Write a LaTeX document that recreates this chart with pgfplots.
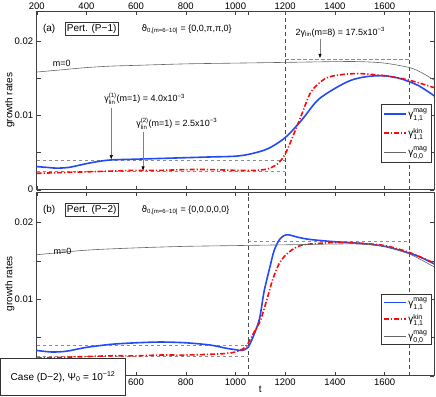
\documentclass[border=0pt]{standalone}
\usepackage{amsmath}
\usepackage{fontspec}
\setmainfont{Liberation Sans}
\newfontfamily\dejavu{DejaVu Sans}
\usepackage{pgfplots}
\pgfplotsset{compat=1.18}
\usetikzlibrary{arrows.meta}

\definecolor{mblue}{RGB}{35,75,245}
\definecolor{mred}{RGB}{250,10,10}

\tikzset{ann/.style={font=\fontsize{9}{10}\selectfont}}
\pgfplotsset{
  panel/.style={
    scale only axis, width=397.6pt,
    xmin=200, xmax=1800, ymin=0, ymax=0.024,
    xtick={200,400,...,1600},
    extra x ticks={1050,1700}, extra x tick labels={},
    ytick={0,0.01,0.02}, yticklabels={0,0.01,0.02},
    minor ytick={0.005,0.015},
    scaled ticks=false,
    tick align=inside, major tick length=4pt, minor tick length=4pt,
    xtick pos=both, ytick pos=both,
    axis line style={black!75, line width=0.5pt},
    every tick/.style={black!75, line width=0.4pt},
    tick label style={font=\fontsize{9.5}{11}\selectfont},
    /pgf/number format/assume math mode=true,
    /pgf/number format/1000 sep={},
    ylabel={growth rates},
    ylabel style={at={(rel axis cs:-0.068,0.5)}, anchor=center, font=\fontsize{10}{12}\selectfont},
    legend cell align=left,
    legend image code/.code={\draw[##1] (0pt,0pt) -- (22pt,0pt);},
  },
  mag/.style={color=mblue, line width=1.6pt, smooth},
  kin/.style={color=mred, line width=1.6pt, smooth, dash pattern=on 5pt off 2pt on 1.2pt off 2pt},
  zz/.style={color=black!60, line width=0.6pt, smooth},
  ref/.style={color=black!45, line width=0.6pt, dash pattern=on 3.5pt off 2.5pt, forget plot},
  vref/.style={color=black!70, line width=0.5pt, dash pattern=on 4pt off 3pt, forget plot},
}
\newcommand{\gsym}[2]{γ$^{\text{#1}}_{\text{#2}}$}

\begin{document}
\begin{tikzpicture}
\path[use as bounding box] (0pt,0pt) rectangle (436pt,-396pt);

% panel (a)
\begin{axis}[panel, at={(36.7pt,-11pt)}, anchor=north west, height=178.7pt,
  xticklabel pos=upper,
  xticklabel style={yshift=-2.5pt},
  legend style={at={(rel axis cs:0.9935,0.482)}, anchor=north east, draw=black!80,
    font=\fontsize{10}{12}\selectfont, row sep=5pt, inner xsep=2pt, inner ysep=3pt},
]
\addplot[vref] coordinates {(1200,0) (1200,0.024)};
\addplot[vref] coordinates {(1700,0) (1700,0.024)};
\addplot[ref] coordinates {(200,0.0040) (1200,0.0040)};
\addplot[ref] coordinates {(200,0.0025) (1200,0.0025)};
\addplot[ref] coordinates {(1200,0.0175) (1700,0.0175)};

\addplot[mag] coordinates {
 (200,0.0031) (240,0.0030) (280,0.0029) (330,0.0030) (400,0.0035) (450,0.0038)
 (500,0.0040) (600,0.0041) (700,0.0042) (800,0.0043) (900,0.0044) (1000,0.0045)
 (1060,0.0048) (1130,0.0055) (1200,0.0070) (1265,0.0093) (1330,0.0120) (1400,0.0136)
 (1465,0.0147) (1530,0.0152) (1600,0.0153) (1665,0.0149) (1735,0.0140) (1800,0.0126)
};
\addlegendentry{\gsym{mag}{1,1}}
\addplot[kin] coordinates {
 (200,0.0022) (300,0.0023) (400,0.0024) (500,0.0025) (600,0.0026) (700,0.0026)
 (800,0.0027) (900,0.0027) (1000,0.0026) (1080,0.0026) (1130,0.0028) (1170,0.0035)
 (1200,0.0048) (1235,0.0075) (1265,0.0100) (1305,0.0132) (1360,0.0149) (1415,0.0154)
 (1495,0.0156) (1600,0.0153) (1700,0.0147) (1800,0.0137)
};
\addlegendentry{\gsym{kin}{1,1}}
\addplot[zz] coordinates {
 (200,0.0158) (300,0.0161) (400,0.0164) (500,0.0166) (600,0.0167) (800,0.0169)
 (1000,0.0170) (1200,0.0171) (1400,0.0172) (1500,0.0172) (1600,0.0170) (1700,0.0164)
 (1750,0.0157) (1800,0.0147)
};
\addlegendentry{\gsym{mag}{0,0}}

\node[font=\fontsize{10}{12}\selectfont] at (axis cs:250,0.02165) {(a)};
\node[draw=black!80, inner sep=2pt, font=\fontsize{10}{12}\selectfont] at (axis cs:421,0.02165) {Pert. (P−1)};
\node[ann, anchor=base west] at (axis cs:608,0.0213) {{\dejavu ϑ}$_{\text{0,[m=6−10]}}$ = \{0,0,π,π,0\}};
\node[ann, anchor=base west] at (axis cs:1228,0.0207) {2γ$_{\text{lin}}$(m=8) = 17.5x10\textsuperscript{−3}};
\node[ann, anchor=base west] at (axis cs:251,0.0166) {m=0};
\node[ann, anchor=base west] at (axis cs:458,0.0118) {\gsym{(1)}{lin}(m=1) = 4.0x10\textsuperscript{−3}};
\node[ann, anchor=base west] at (axis cs:587,0.0085) {\gsym{(2)}{lin}(m=1) = 2.5x10\textsuperscript{−3}};
\draw[black!50, line width=0.5pt, -{Triangle[black, length=4pt, width=3pt]}] (axis cs:1340,0.0203) -- (axis cs:1340,0.0177);
\draw[black!50, line width=0.5pt, -{Triangle[black, length=4pt, width=3pt]}] (axis cs:500,0.0110) -- (axis cs:500,0.0041);
\draw[black!50, line width=0.5pt, -{Triangle[black, length=4pt, width=3pt]}] (axis cs:628,0.0078) -- (axis cs:628,0.0026);
\end{axis}

% panel (b)
\begin{axis}[panel, at={(36.7pt,-192pt)}, anchor=north west, height=183.7pt,
  xticklabels={,,600,800,1000,1200,1400,1600},
  yticklabels={,0.01,0.02},
  xlabel={t},
  xlabel style={at={(rel axis cs:0.5625,0)}, anchor=north, yshift=-7pt, font=\fontsize{10}{12}\selectfont},
  legend style={at={(rel axis cs:0.9935,0.443)}, anchor=north east, draw=black!80,
    font=\fontsize{10}{12}\selectfont, row sep=2.5pt, inner xsep=2pt, inner ysep=1pt},
]
\addplot[vref] coordinates {(1050,0) (1050,0.024)};
\addplot[vref] coordinates {(1700,0) (1700,0.024)};
\addplot[ref] coordinates {(200,0.0040) (1050,0.0040)};
\addplot[ref] coordinates {(200,0.0025) (1050,0.0025)};
\addplot[ref] coordinates {(1050,0.0175) (1700,0.0175)};

\addplot[mag] coordinates {
 (200,0.0033) (260,0.0031) (320,0.0032) (400,0.0037) (500,0.0041) (600,0.0043)
 (700,0.0044) (800,0.0043) (900,0.0040) (960,0.0036) (1000,0.0034) (1025,0.0033)
 (1050,0.0037) (1075,0.0054) (1097,0.0075) (1115,0.0110) (1140,0.0144) (1155,0.0163)
 (1175,0.0177) (1195,0.0183) (1215,0.0184) (1250,0.0181) (1300,0.0178) (1400,0.0175)
 (1500,0.0173) (1600,0.0169) (1700,0.0160) (1750,0.0154) (1800,0.0146)
};
\addlegendentry{\gsym{mag}{1,1}}
\addplot[kin] coordinates {
 (200,0.0023) (300,0.0024) (400,0.0025) (500,0.0026) (600,0.0026) (700,0.0027)
 (800,0.0027) (900,0.0028) (960,0.0029) (1000,0.0031) (1030,0.0035) (1050,0.0042)
 (1075,0.0057) (1100,0.0072) (1125,0.0098) (1150,0.0126) (1175,0.0146) (1200,0.0157)
 (1230,0.0165) (1260,0.0170) (1300,0.0172) (1400,0.0174) (1500,0.0173) (1600,0.0170)
 (1700,0.0161) (1800,0.0147)
};
\addlegendentry{\gsym{kin}{1,1}}
\addplot[zz] coordinates {
 (200,0.0158) (400,0.0164) (600,0.0167) (800,0.0169) (1000,0.0170) (1200,0.0171)
 (1400,0.0172) (1500,0.0172) (1600,0.0169) (1700,0.0159) (1800,0.0142)
};
\addlegendentry{\gsym{mag}{0,0}}

\node[font=\fontsize{10}{12}\selectfont] at (axis cs:250,0.02166) {(b)};
\node[draw=black!80, inner sep=2pt, font=\fontsize{10}{12}\selectfont] at (axis cs:421,0.02166) {Pert. (P−2)};
\node[ann, anchor=base west] at (axis cs:608,0.0213) {{\dejavu ϑ}$_{\text{0,[m=6−10]}}$ = \{0,0,0,0,0\}};
\node[ann, anchor=base west] at (axis cs:254,0.0159) {m=0};
\end{axis}

\node[draw=black!80, fill=white, line width=0.5pt, anchor=south west,
  minimum width=125pt, minimum height=37pt, font=\fontsize{10}{12}\selectfont]
  at (0.3pt,-395.7pt) {Case (D−2), Ψ$_{\text{0}}$ = 10\textsuperscript{−12}};
\end{tikzpicture}
\end{document}
